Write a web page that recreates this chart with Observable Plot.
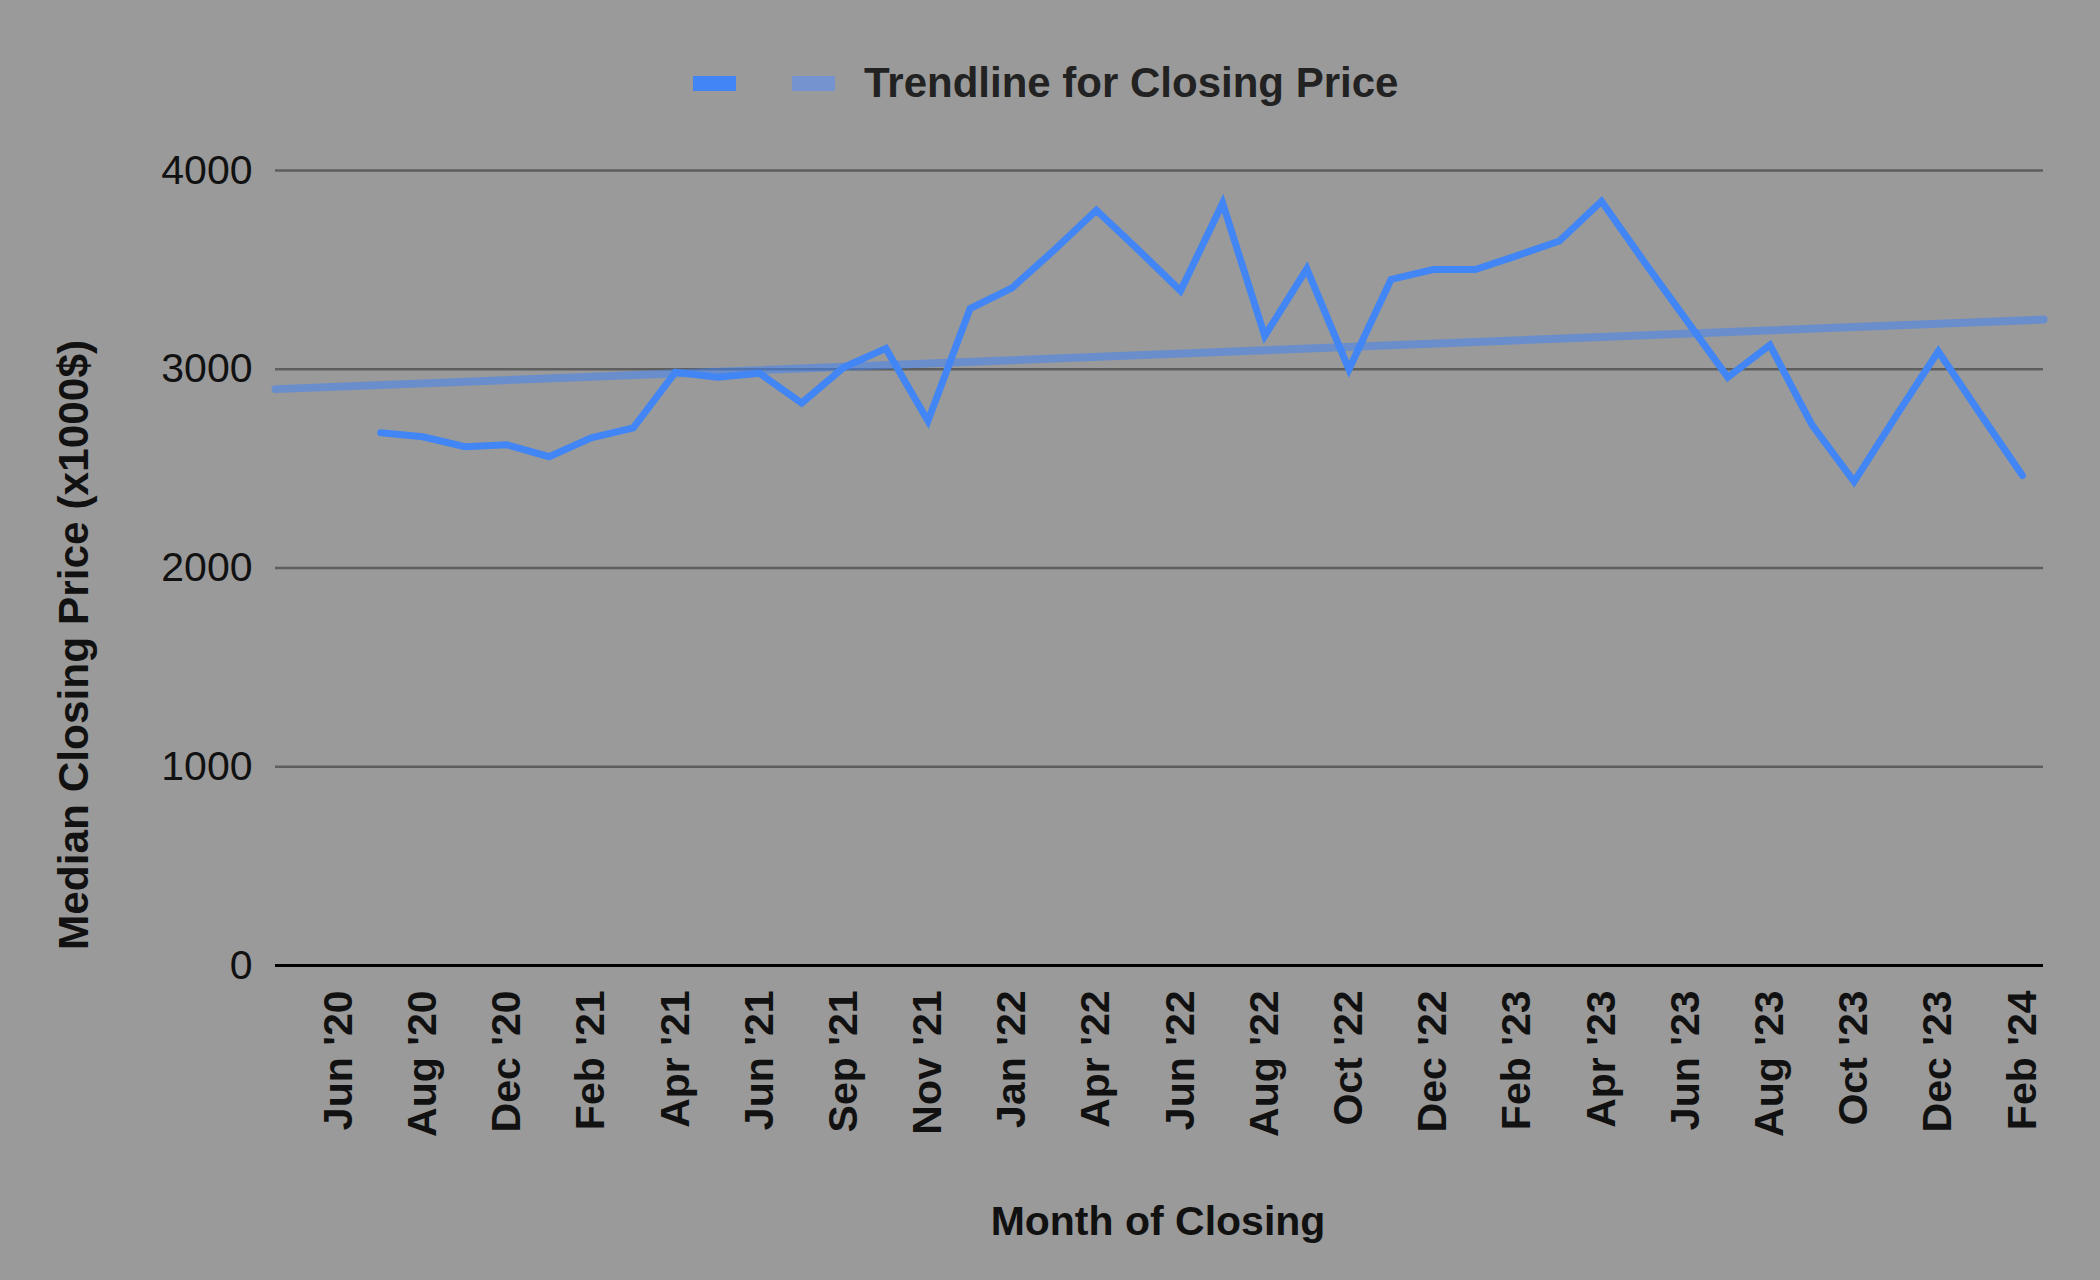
<!DOCTYPE html>
<html>
<head>
<meta charset="utf-8">
<script src="https://cdn.jsdelivr.net/npm/d3@7"></script>
<script src="https://cdn.jsdelivr.net/npm/@observablehq/plot@0.6"></script>
<style>
  html, body { margin: 0; padding: 0; background: #9a9a9a; }
  #wrap { position: relative; width: 2100px; height: 1280px; background: #9a9a9a; font-family: "Liberation Sans", Arial, sans-serif; overflow: hidden; }
  #chart { position: absolute; left: 0; top: 130px; }
  .lab { position: absolute; white-space: nowrap; font-weight: bold; font-size: 41px; color: #111; }
  #legend { position: absolute; left: 693px; top: 83px; transform: translateY(-50%); display: flex; align-items: center; font-weight: bold; font-size: 42px; color: #222; }
  .sw { width: 43px; height: 15px; display: inline-block; }
</style>
</head>
<body>
<div id="wrap">
  <div id="legend">
    <span class="sw" style="background:#4285f4"></span>
    <span class="sw" style="background:#7594cf;margin-left:56px"></span>
    <span style="margin-left:29px">Trendline for Closing Price</span>
  </div>
  <div id="chart"></div>
  <div class="lab" style="left:74px;top:645px;font-size:42.4px;transform:translate(-50%,-50%) rotate(-90deg)">Median Closing Price (x1000$)</div>
  <div class="lab" style="left:1158px;top:1221px;transform:translate(-50%,-50%)">Month of Closing</div>
</div>
<script>
// Category months (every other one is labelled on the axis)
const months = [
  "May '20", "Jun '20", "Jul '20", "Aug '20", "Oct '20", "Dec '20", "Jan '21", "Feb '21",
  "Mar '21", "Apr '21", "May '21", "Jun '21", "Jul '21", "Sep '21", "Oct '21", "Nov '21",
  "Dec '21", "Jan '22", "Feb '22", "Apr '22", "May '22", "Jun '22", "Jul '22", "Aug '22",
  "Sep '22", "Oct '22", "Nov '22", "Dec '22", "Jan '23", "Feb '23", "Mar '23", "Apr '23",
  "May '23", "Jun '23", "Jul '23", "Aug '23", "Sep '23", "Oct '23", "Nov '23", "Dec '23",
  "Jan '24", "Feb '24"
];
// Median closing price (x1000$)
const medianPrice = [
  null, null, 2680, 2660, 2610, 2620, 2560, 2655,
  2705, 2985, 2960, 2980, 2830, 3010, 3105, 2740,
  3305, 3410, 3600, 3800, 3600, 3395, 3835, 3168,
  3505, 3000, 3452, 3502, 3502, 3572, 3645, 3845,
  3545, 3252, 2960, 3122, 2720, 2435, 2765, 3090,
  2775, 2465
];
// Trendline values at the two ends of the axis
const trendEnds = [2900, 3250];
const yTicks = [0, 1000, 2000, 3000, 4000];
const gridTicks = [1000, 2000, 3000, 4000];

const labelIdx = months.map((m, i) => i).filter(i => i % 2 === 1);
const series = months.map((m, i) => ({i, month: m, v: medianPrice[i]}));
const n = months.length;
const trend = [{i: -0.5, v: trendEnds[0]}, {i: n - 0.5, v: trendEnds[1]}];

const chart = Plot.plot({
  width: 2100,
  height: 1150,
  marginLeft: 275,
  marginRight: 57,
  marginTop: 40,
  marginBottom: 315,
  style: {background: "transparent", fontFamily: "'Liberation Sans', Arial, sans-serif"},
  x: {type: "linear", domain: [-0.5, n - 0.5], axis: null},
  y: {domain: [0, 4000], axis: null},
  marks: [
    Plot.ruleY(gridTicks, {stroke: "#5e5e5e", strokeWidth: 2.5}),
    Plot.ruleY([0], {stroke: "#000", strokeWidth: 3}),
    Plot.axisY({ticks: yTicks, tickSize: 0, tickPadding: 23, tickFormat: d3.format("d"), fontSize: 41, color: "#111", label: null}),
    Plot.axisX({ticks: labelIdx, tickFormat: i => months[i], tickRotate: -90, tickSize: 0, tickPadding: 25, fontSize: 41, fontWeight: "bold", color: "#111", label: null}),
    Plot.line(trend, {x: "i", y: "v", stroke: "#4285f4", strokeOpacity: 0.55, strokeWidth: 8}),
    Plot.line(series, {x: "i", y: "v", stroke: "#4285f4", strokeWidth: 7, strokeLinejoin: "miter", strokeMiterlimit: 6})
  ]
});
document.getElementById("chart").appendChild(chart);
</script>
</body>
</html>
